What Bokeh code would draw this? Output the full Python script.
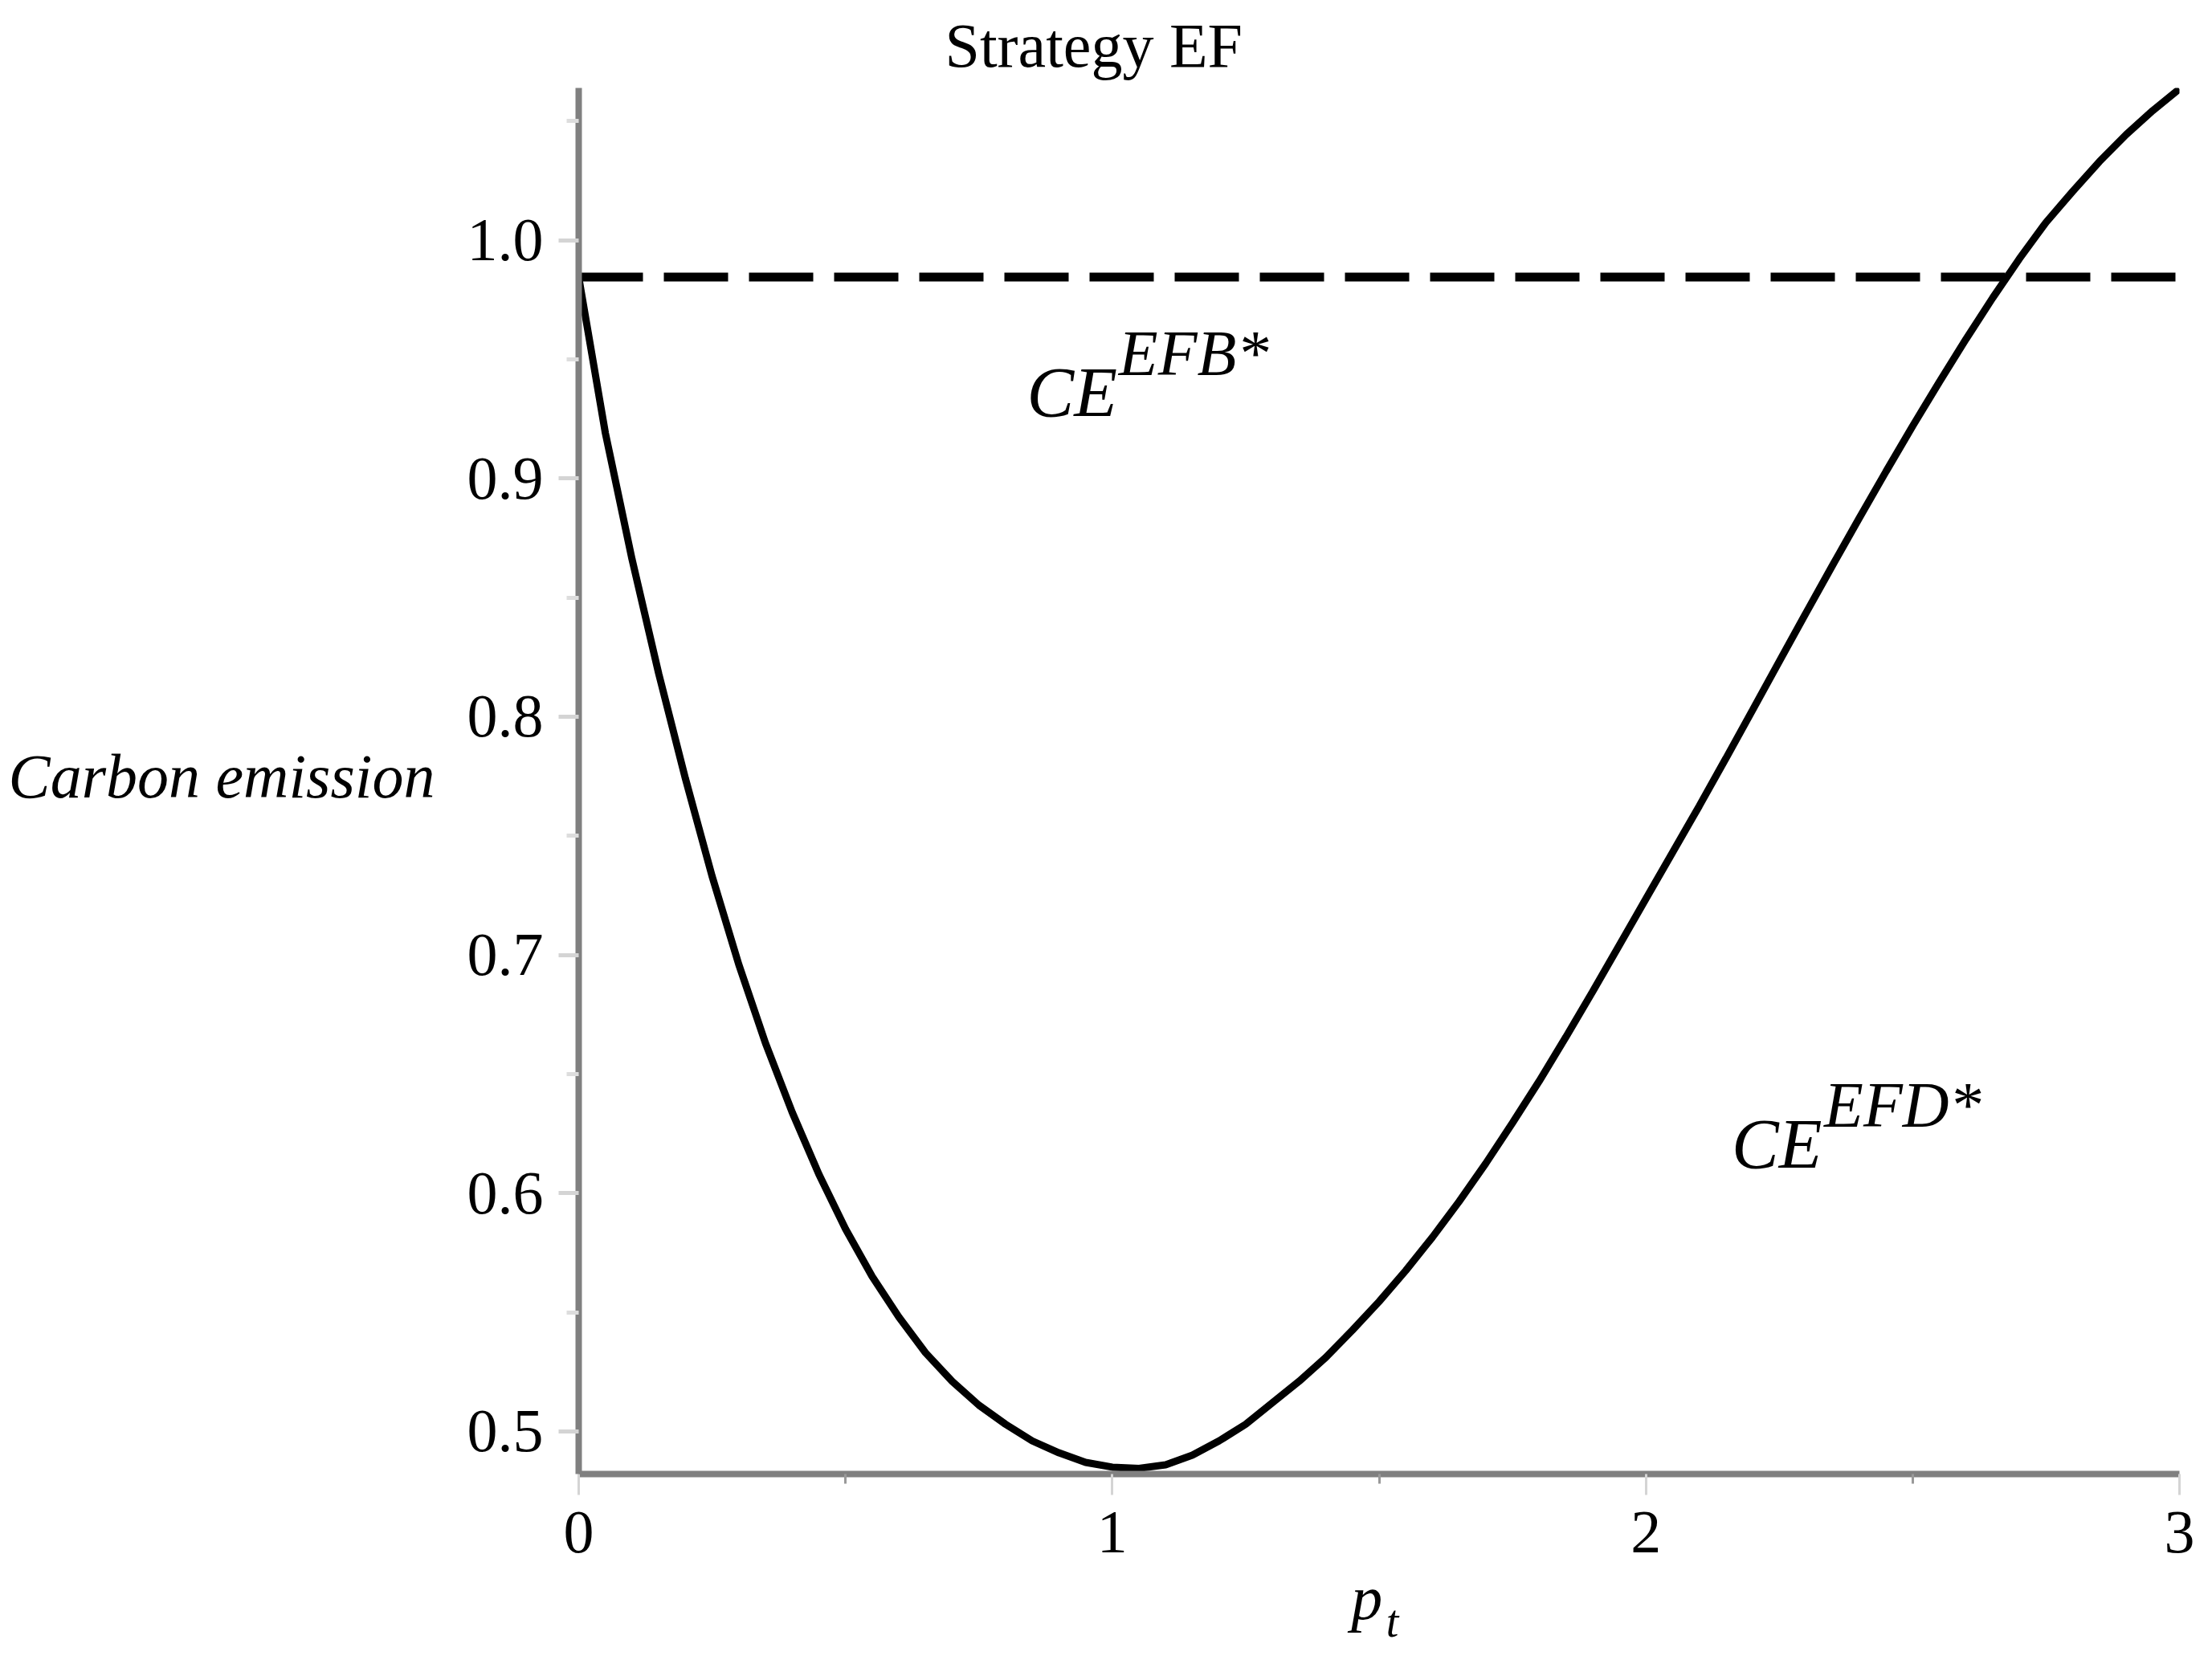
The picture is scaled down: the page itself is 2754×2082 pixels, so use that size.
from bokeh.plotting import figure
from bokeh.models import FixedTicker, PrintfTickFormatter, Label, Range1d, LinearAxis
from bokeh.embed import file_html
from bokeh.resources import INLINE

# ---- data ----
p_t = [0.0, 0.05, 0.1, 0.15, 0.2, 0.25, 0.3, 0.35, 0.4, 0.45,
       0.5, 0.55, 0.6, 0.65, 0.7, 0.75, 0.8, 0.85, 0.9, 0.95,
       1.0, 1.05, 1.1, 1.15, 1.2, 1.25, 1.3, 1.35, 1.4, 1.45,
       1.5, 1.55, 1.6, 1.65, 1.7, 1.75, 1.8, 1.85, 1.9, 1.95,
       2.0, 2.05, 2.1, 2.15, 2.2, 2.25, 2.3, 2.35, 2.4, 2.45,
       2.5, 2.55, 2.6, 2.65, 2.7, 2.75, 2.8, 2.85, 2.9, 2.95, 3.0]
ce_efd = [0.9845, 0.919, 0.866, 0.818, 0.774, 0.733, 0.696, 0.663, 0.634, 0.608,
          0.585, 0.565, 0.548, 0.533, 0.521, 0.511, 0.503, 0.496, 0.491, 0.487,
          0.485, 0.4845, 0.486, 0.490, 0.496, 0.503, 0.512, 0.521, 0.531, 0.5425,
          0.5545, 0.5675, 0.5815, 0.5965, 0.6125, 0.6295, 0.647, 0.6655, 0.6845, 0.704,
          0.7235, 0.743, 0.7625, 0.7825, 0.8028, 0.8232, 0.8435, 0.8636, 0.8834, 0.9029,
          0.922, 0.9405, 0.9585, 0.9758, 0.9922, 1.0075, 1.0205, 1.033, 1.0443, 1.0544, 1.0635]
efb_x = [0.0, 3.0]
ce_efb = [0.9845, 0.9845]

x_ticks = [0, 1, 2, 3]
x_minor = [0.5, 1.5, 2.5]
y_ticks = [0.5, 0.6, 0.7, 0.8, 0.9, 1.0]
y_minor = [0.55, 0.65, 0.75, 0.85, 0.95, 1.05]

title_text = "Strategy EF"
y_label = "Carbon emission"
y_label_at = 0.775
x_label_main, x_label_sub = "p", "t"
x_label_main_at, x_label_sub_at = 1.477, 1.525

FONT = "Liberation Serif"

p = figure(width=2750, height=2078, output_backend="svg", toolbar_location=None,
           x_range=Range1d(0, 3), y_range=Range1d(0.4821, 1.0639),
           min_border_left=720, min_border_right=37, min_border_top=109, min_border_bottom=243)
p.title.text = title_text
p.title.text_font = FONT
p.title.text_font_size = "78px"
p.title.text_font_style = "normal"
p.title.text_color = "black"
p.title.align = "left"
p.title.offset = 456
p.title.standoff = 20
p.outline_line_color = None
p.background_fill_color = "white"
p.border_fill_color = "white"
p.xgrid.visible = False
p.ygrid.visible = False

p.line(p_t, ce_efd, line_color="black", line_width=9)
p.line(efb_x, ce_efb, line_color="black", line_width=11, line_dash="80 26")

for ax in (p.xaxis[0], p.yaxis[0]):
    ax.axis_line_color = "#808080"
    ax.axis_line_width = 8
    ax.major_label_text_font = FONT
    ax.major_label_text_font_size = "76px"
    ax.major_label_text_color = "black"
    ax.major_tick_in = 0
    ax.minor_tick_in = 0

xa = p.xaxis[0]
xa.ticker = FixedTicker(ticks=x_ticks, minor_ticks=x_minor)
xa.formatter = PrintfTickFormatter(format="%d")
xa.major_tick_out = 26
xa.major_tick_line_color = "#d4d4d4"
xa.major_tick_line_width = 3
xa.minor_tick_out = 12
xa.minor_tick_line_color = "#999999"
xa.minor_tick_line_width = 3
xa.major_label_standoff = 21

ya = p.yaxis[0]
ya.ticker = FixedTicker(ticks=y_ticks, minor_ticks=y_minor)
ya.formatter = PrintfTickFormatter(format="%.1f")
ya.major_tick_out = 25
ya.major_tick_line_color = "#d4d4d4"
ya.major_tick_line_width = 5
ya.minor_tick_out = 15
ya.minor_tick_line_color = "#dddddd"
ya.minor_tick_line_width = 5
ya.major_label_standoff = 19

def label_axis(ticks, overrides, size, standoff):
    return LinearAxis(ticker=FixedTicker(ticks=ticks), major_label_overrides=overrides,
                      axis_line_color=None, major_tick_line_color=None, minor_tick_line_color=None,
                      major_tick_out=0, major_tick_in=0, minor_tick_out=0, minor_tick_in=0,
                      major_label_text_font=FONT, major_label_text_font_size=size,
                      major_label_text_font_style="italic", major_label_text_color="black",
                      major_label_standoff=standoff)

# y axis title, written horizontally at the left
p.add_layout(label_axis([y_label_at], {y_label_at: y_label}, "78px", 37), "left")
# x axis title p with subscript t
p.add_layout(label_axis([x_label_main_at], {x_label_main_at: x_label_main}, "78px", 10), "below")
p.add_layout(label_axis([x_label_sub_at], {x_label_sub_at: x_label_sub}, "56px", -48), "below")

def lab(x, y, text, size):
    p.add_layout(Label(x=x, y=y, text=text, text_font=FONT, text_font_size=size,
                       text_font_style="italic", text_color="black",
                       text_align="left", text_baseline="alphabetic"))

# curve labels
lab(0.840, 0.936, "CE", "88px")
lab(1.012, 0.9526, "EFB*", "80px")
lab(2.161, 0.6208, "CE", "88px")
lab(2.334, 0.637, "EFD*", "80px")

open("out.html", "w").write(file_html(p, INLINE))
